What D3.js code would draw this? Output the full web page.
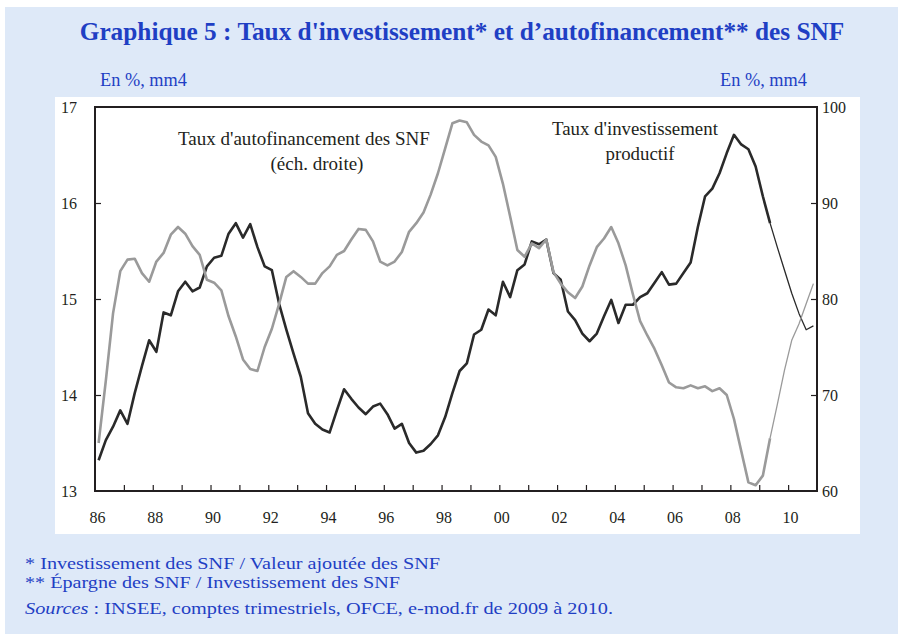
<!DOCTYPE html>
<html><head><meta charset="utf-8">
<script src="https://cdn.jsdelivr.net/npm/d3@7"></script>
<style>
html,body{margin:0;padding:0;background:#fff;}
svg{display:block;}
</style></head>
<body>
<script>
// ---------- DATA ----------
const years = d3.range(1986, 2011);             // 1986..2010, four quarters each
const quarters = [];
years.forEach(y => [1,2,3,4].forEach(q => quarters.push({year: y, q: q})));

// Taux d'investissement productif (left scale, %)
const investissement = [
 13.32,13.53,13.67,13.84,13.70,14.02,14.30,14.57,14.45,14.86,
 14.83,15.08,15.18,15.08,15.12,15.34,15.43,15.45,15.68,15.79,
 15.64,15.78,15.54,15.34,15.30,14.95,14.68,14.43,14.19,13.81,
 13.70,13.64,13.61,13.84,14.06,13.96,13.87,13.80,13.88,13.91,
 13.80,13.65,13.70,13.50,13.40,13.42,13.49,13.58,13.77,14.02,
 14.25,14.33,14.63,14.68,14.89,14.83,15.18,15.02,15.30,15.36,
 15.60,15.57,15.62,15.27,15.20,14.87,14.78,14.64,14.56,14.64,
 14.82,14.99,14.75,14.94,14.94,15.02,15.06,15.17,15.28,15.15,
 15.16,15.27,15.38,15.75,16.07,16.15,16.31,16.52,16.71,16.61,
 16.56,16.38,16.07,15.79,15.54,15.30,15.06,14.85,14.68,14.72
];
// Taux d'autofinancement des SNF (right scale, %)
const autofinancement = [
 65.0,71.5,78.5,82.9,84.1,84.2,82.7,81.8,83.9,84.8,
 86.7,87.5,86.8,85.5,84.6,82.0,81.7,80.9,78.2,76.1,
 73.7,72.7,72.5,75.0,76.9,79.5,82.3,82.9,82.3,81.6,
 81.6,82.7,83.4,84.6,85.0,86.2,87.3,87.2,86.0,83.9,
 83.5,83.9,84.9,87.0,87.9,89.0,90.9,93.1,95.7,98.3,
 98.6,98.4,97.1,96.4,96.0,94.8,92.0,88.6,85.1,84.4,
 85.8,85.3,86.2,82.8,81.6,80.7,80.1,81.3,83.5,85.4,
 86.3,87.5,85.8,83.5,80.5,77.7,76.2,74.8,73.1,71.3,
 70.8,70.7,71.0,70.7,70.9,70.4,70.7,70.0,67.5,64.2,
 60.9,60.6,61.6,65.5,69.0,72.6,75.7,77.4,79.5,81.6
];
const lastObserved = 93;  // 2009 T2: later points (e-mod.fr forecast) drawn thin

const leftTicks = [13,14,15,16,17];
const rightTicks = [60,70,80,90,100];
const xTickYears = d3.range(1987, 2011);
const xLabelYears = [1986,1988,1990,1992,1994,1996,1998,2000,2002,2004,2006,2008,2010];

const titleText = "Graphique 5 : Taux d'investissement* et d\u2019autofinancement** des SNF";
const unitText = "En %, mm4";
const notes = ["* Investissement des SNF / Valeur ajout\u00e9e des SNF",
               "** \u00c9pargne des SNF / Investissement des SNF"];

// ---------- LAYOUT ----------
const W = 903, H = 634;
const plot = {l: 95, r: 817, t: 107, b: 491};
const blue = "#1f3fc4", ink = "#231f20";
const serif = "'Liberation Serif','DejaVu Serif',serif";

const svg = d3.select("body").append("svg").attr("width", W).attr("height", H)
  .style("font-family", serif);

svg.append("rect").attr("x",5).attr("y",7).attr("width",893).attr("height",627).attr("fill","#dee9f8");
svg.append("rect").attr("x",55).attr("y",97).attr("width",805).attr("height",437).attr("fill","#fff");

const x = d3.scaleLinear().domain([1986, 2011]).range([plot.l, plot.r]);
const yL = d3.scaleLinear().domain([13, 17]).range([plot.b, plot.t]);
const yR = d3.scaleLinear().domain([60, 100]).range([plot.b, plot.t]);
const tq = d => d.year + (d.q - 0.5) / 4;

function fit(sel, target, size) {
  sel.attr("font-size", size);
  const w = sel.node().getComputedTextLength();
  const s = size * target / w;
  sel.attr("font-size", s);
  return s;
}
function stretch(sel, target) {
  sel.attr("textLength", target).attr("lengthAdjust", "spacingAndGlyphs");
}

// title & units
fit(svg.append("text").attr("x", 462).attr("y", 40).attr("text-anchor","middle")
  .attr("fill", blue).attr("font-weight","bold").text(titleText), 765, 22);
fit(svg.append("text").attr("x", 100).attr("y", 86).attr("fill", blue).text(unitText), 87, 15);
fit(svg.append("text").attr("x", 720).attr("y", 86).attr("fill", blue).text(unitText), 87, 15);

// axes
const gx = svg.append("g").attr("transform", `translate(0,${plot.b})`)
  .call(d3.axisBottom(x).tickValues(xTickYears).tickSize(-6).tickFormat(""));
const gxl = svg.append("g").attr("transform", `translate(2,${plot.b})`)
  .call(d3.axisBottom(x).tickValues(xLabelYears).tickSize(0).tickPadding(21)
    .tickFormat(d => String(d).slice(2)));
const gl = svg.append("g").attr("transform", `translate(${plot.l},0)`)
  .call(d3.axisLeft(yL).tickValues(leftTicks).tickSizeInner(-6).tickSizeOuter(0).tickPadding(18).tickFormat(d3.format("d")));
const gr = svg.append("g").attr("transform", `translate(${plot.r},0)`)
  .call(d3.axisRight(yR).tickValues(rightTicks).tickSizeInner(-6).tickSizeOuter(0).tickPadding(5).tickFormat(d3.format("d")));
[gx, gxl, gl, gr].forEach(g => {
  g.select(".domain").remove();
  g.selectAll("line").attr("stroke", ink).attr("stroke-width", 1.2);
  g.selectAll("text").attr("font-family", serif).attr("font-size", 16).attr("fill", ink);
});
gl.selectAll(".tick").filter(d => d === 13 || d === 17).select("line").remove();
gr.selectAll(".tick").filter(d => d === 60 || d === 100).select("line").remove();

// lines
const pts = (vals, sc) => quarters.map((d, i) => [x(tq(d)), sc(vals[i])]);
const line = d3.line();
function drawSeries(vals, sc, color) {
  const p = pts(vals, sc);
  svg.append("path").attr("d", line(p.slice(0, lastObserved + 1)))
    .attr("fill","none").attr("stroke", color).attr("stroke-width", 2.6).attr("stroke-linejoin","round");
  svg.append("path").attr("d", line(p.slice(lastObserved)))
    .attr("fill","none").attr("stroke", color).attr("stroke-width", 1.3).attr("stroke-linejoin","round");
}
drawSeries(investissement, yL, "#2a2a2a");
drawSeries(autofinancement, yR, "#9a9a9a");

// frame
svg.append("rect").attr("x", plot.l).attr("y", plot.t).attr("width", plot.r - plot.l)
  .attr("height", plot.b - plot.t).attr("fill","none").attr("stroke", ink).attr("stroke-width", 2);

// annotations
const s1 = fit(svg.append("text").attr("x", 178).attr("y", 145).attr("fill", ink).text("Taux d'autofinancement des SNF"), 252, 16);
svg.append("text").attr("x", 317).attr("y", 170).attr("text-anchor","middle").attr("fill", ink)
  .attr("font-size", s1).text("(\u00e9ch. droite)");
const s2 = fit(svg.append("text").attr("x", 552).attr("y", 135).attr("fill", ink).text("Taux d'investissement"), 166, 16);
svg.append("text").attr("x", 640).attr("y", 160).attr("text-anchor","middle").attr("fill", ink)
  .attr("font-size", s2).text("productif");

// footnotes
const n1 = svg.append("text").attr("x", 25).attr("y", 569).attr("fill", blue).attr("font-size", 16).text(notes[0]);
stretch(n1, 415);
const n2 = svg.append("text").attr("x", 25).attr("y", 588).attr("fill", blue).attr("font-size", 16).text(notes[1]);
stretch(n2, 375);
const src = svg.append("text").attr("x", 25).attr("y", 614).attr("fill", blue).attr("font-size", 16.5);
src.append("tspan").attr("font-style","italic").text("Sources");
src.append("tspan").text(" : INSEE, comptes trimestriels, OFCE, e-mod.fr de 2009 \u00e0 2010.");
stretch(src, 588);
</script>
</body></html>
